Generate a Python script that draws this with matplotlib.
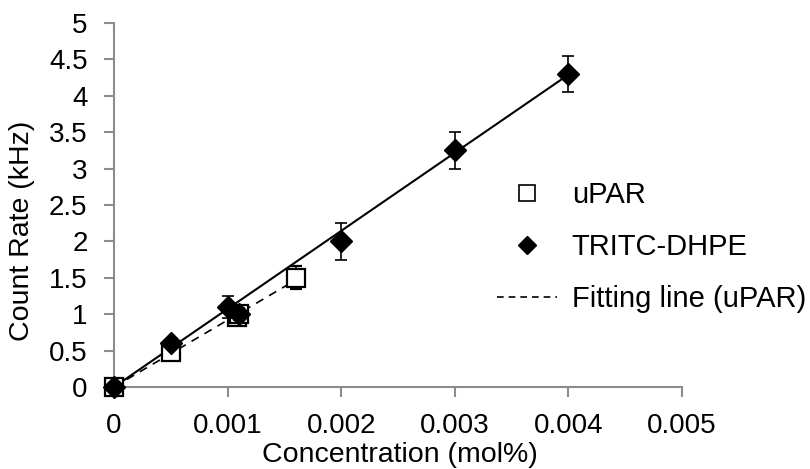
import numpy as np
import matplotlib
matplotlib.use('Agg')
import matplotlib.pyplot as plt

plt.rcParams['font.family'] = ['Liberation Sans', 'DejaVu Sans']

# uPAR (open squares)
upar_x = [0, 0.0005, 0.00108, 0.0011, 0.0016]
upar_y = [0, 0.48, 0.96, 1.0, 1.5]
upar_err = [0.03, 0.1, 0.08, 0.08, 0.16]

# TRITC-DHPE (filled diamonds)
tritc_x = [0, 0.0005, 0.001, 0.0011, 0.002, 0.003, 0.004]
tritc_y = [0, 0.6, 1.1, 1.0, 2.0, 3.25, 4.3]
tritc_err = [0.03, 0.05, 0.15, 0.08, 0.25, 0.25, 0.25]

# fitting lines
fit_tritc_x = [0, 0.004]
fit_tritc_y = [0, 4.29]
fit_upar_x = [0, 0.0016]
fit_upar_y = [0, 1.47]

fig = plt.figure(figsize=(8.1, 4.69), dpi=100)
ax = fig.add_axes([0.1407, 0.1748, 0.842 - 0.1407, 0.951 - 0.1748])

ax.plot(fit_tritc_x, fit_tritc_y, 'k-', lw=1.5, zorder=2)
ax.plot(fit_upar_x, fit_upar_y, 'k--', lw=1.2, dashes=(5, 4), zorder=2)

eb1 = ax.errorbar(upar_x, upar_y, yerr=upar_err, fmt='s', mfc='white', mec='black', mew=1.6,
                  ms=12.5, ecolor='black', elinewidth=1.2, capsize=4.5, capthick=1.2, zorder=3)
eb2 = ax.errorbar(tritc_x, tritc_y, yerr=tritc_err, fmt='D', mfc='black', mec='black',
                  ms=11, ecolor='black', elinewidth=1.2, capsize=4.5, capthick=1.2, zorder=4)
for eb in (eb1, eb2):
    eb[0].set_clip_on(False)

h_upar = ax.plot([], [], 's', mfc='white', mec='black', mew=1.2, ms=11.5, label='uPAR')[0]
h_tritc = ax.plot([], [], 'D', mfc='black', mec='black', ms=9.5, label='TRITC-DHPE')[0]
h_fit = ax.plot([], [], 'k--', lw=1.2, dashes=(4, 3), label='Fitting line (uPAR)')[0]

ax.set_xlim(0, 0.005)
ax.set_ylim(0, 5)
ax.set_xticks([0, 0.001, 0.002, 0.003, 0.004, 0.005])
ax.set_xticklabels(['0', '0.001', '0.002', '0.003', '0.004', '0.005'])
ax.set_yticks(np.arange(0, 5.01, 0.5))
ax.set_yticklabels(['0', '0.5', '1', '1.5', '2', '2.5', '3', '3.5', '4', '4.5', '5'])

for s in ['top', 'right']:
    ax.spines[s].set_visible(False)
for s in ['left', 'bottom']:
    ax.spines[s].set_color('#8c8c8c')
    ax.spines[s].set_linewidth(1.5)
ax.tick_params(axis='both', colors='#8c8c8c', length=7, width=1.5, labelsize=20,
               labelcolor='black')
ax.tick_params(axis='y', pad=12)
ax.tick_params(axis='x', pad=12)

ax.set_xlabel('Concentration (mol%)', fontsize=20.5)
ax.xaxis.set_label_coords(0.5035, -0.150)
ax.set_ylabel('Count Rate (kHz)', fontsize=20.5)
ax.yaxis.set_label_coords(-0.1395, 0.4286)

ax.legend(handles=[h_upar, h_tritc, h_fit], loc='upper left', bbox_to_anchor=(497 / 810, 1 - 181 / 469),
          bbox_transform=fig.transFigure, frameon=False, fontsize=21, handlelength=2.05,
          labelspacing=0.83, handletextpad=0.51, borderpad=0, borderaxespad=0)

plt.savefig('out.png', dpi=100)
